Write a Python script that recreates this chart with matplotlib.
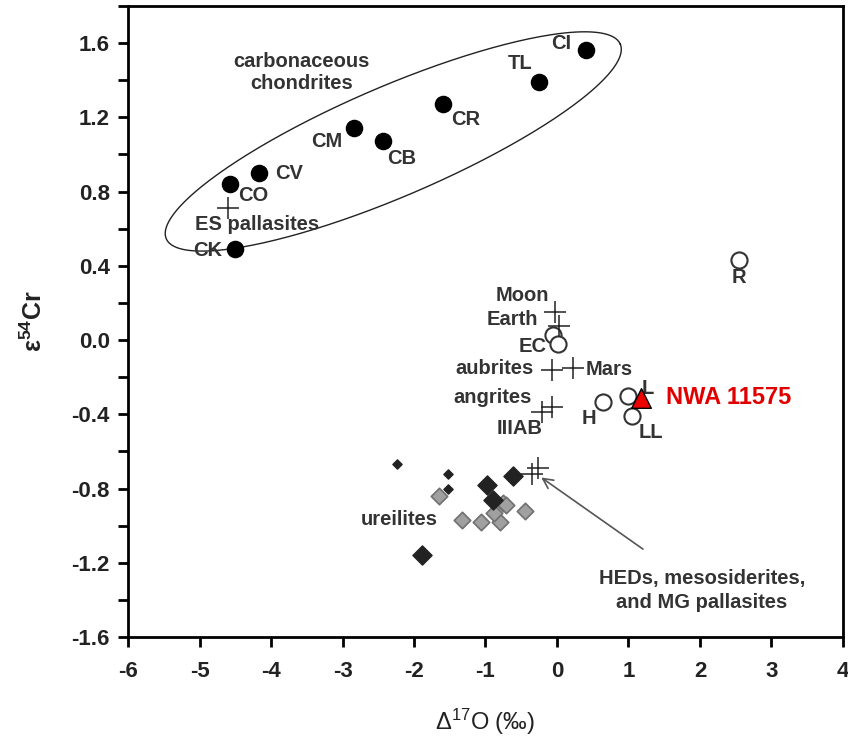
import numpy as np
import matplotlib.pyplot as plt

plt.rcParams['font.family'] = ['Liberation Sans', 'DejaVu Sans']
plt.rcParams['axes.unicode_minus'] = False
plt.rcParams['mathtext.fontset'] = 'custom'
plt.rcParams['mathtext.rm'] = 'Liberation Sans'
plt.rcParams['mathtext.it'] = 'Liberation Sans'
plt.rcParams['mathtext.bf'] = 'Liberation Sans:bold'

# carbonaceous chondrites (filled circles)
cc_names = ['CI', 'TL', 'CR', 'CM', 'CB', 'CV', 'CO', 'CK']
cc_x = [0.41, -0.25, -1.60, -2.84, -2.44, -4.17, -4.58, -4.51]
cc_y = [1.565, 1.39, 1.27, 1.14, 1.07, 0.90, 0.84, 0.49]

# ordinary / enstatite / R chondrites (open circles)
oc_names = ['R', 'Earth', 'EC', 'H', 'L', 'LL']
oc_x = [2.54, -0.06, 0.01, 0.64, 1.00, 1.05]
oc_y = [0.43, 0.03, -0.02, -0.335, -0.30, -0.41]

# achondrites / planets (crosses)
cr_names = ['ES pallasites', 'Moon', 'Earth', 'aubrites', 'Mars', 'angrites', 'IIIAB', 'HED', 'MG']
cr_x = [-4.60, -0.03, 0.03, -0.07, 0.22, -0.07, -0.21, -0.27, -0.35]
cr_y = [0.71, 0.15, 0.075, -0.16, -0.15, -0.36, -0.39, -0.69, -0.72]

# ureilites
ure_big_x = [-0.62, -0.90, -1.89, -0.98]
ure_big_y = [-0.73, -0.86, -1.16, -0.78]
ure_small_x = [-2.24, -1.53, -1.53]
ure_small_y = [-0.67, -0.72, -0.80]
ure_gray_x = [-1.65, -1.33, -1.06, -0.80, -0.88, -0.75, -0.71, -0.45]
ure_gray_y = [-0.84, -0.97, -0.98, -0.98, -0.93, -0.88, -0.89, -0.92]

# NWA 11575
nwa_x = [1.18]
nwa_y = [-0.31]

fig = plt.figure(figsize=(8.48, 7.4), dpi=100)
ax = fig.add_axes([0.151, 0.139, 0.843, 0.853])
ax.set_xlim(-6, 4)
ax.set_ylim(-1.6, 1.8)

ax.scatter(cc_x, cc_y, s=135, c='black', zorder=3)
ax.scatter(oc_x, oc_y, s=135, facecolors='white', edgecolors='#333333', linewidths=1.5, zorder=3)
ax.scatter(cr_x, cr_y, s=260, marker='+', c='#222222', linewidths=1.1, zorder=4)
ax.scatter(ure_gray_x, ure_gray_y, s=70, marker='D', c='#a0a0a0', edgecolors='#707070', linewidths=1.2, zorder=3)
ax.scatter(ure_big_x, ure_big_y, s=95, marker='D', c='#222222', zorder=3)
ax.scatter(ure_small_x, ure_small_y, s=22, marker='D', c='#222222', zorder=3)
ax.scatter(nwa_x, nwa_y, s=200, marker='^', c='#ee0000', edgecolors='black', linewidths=1, zorder=5)

# ellipse around carbonaceous chondrites, drawn in pixel space
fig.canvas.draw()
bb = ax.get_window_extent()
sx = bb.width / 10.0
sy = bb.height / 3.4
t = np.linspace(0, 2 * np.pi, 300)
a, b, th = 247, 55, np.radians(23.2)
cx, cy = -2.29, 1.07
ex = cx + (a * np.cos(t) * np.cos(th) - b * np.sin(t) * np.sin(th)) / sx
ey = cy + (a * np.cos(t) * np.sin(th) + b * np.sin(t) * np.cos(th)) / sy
ax.plot(ex, ey, color='#222222', lw=1.0, zorder=2)

tc = '#333333'
fs = 14.5
lab = dict(color=tc, fontsize=fs, fontweight='bold', ha='center', va='center')
ax.text(-3.57, 1.44, 'carbonaceous\nchondrites', linespacing=1.2, **lab)
ax.text(0.06, 1.595, 'CI', **lab)
ax.text(-0.51, 1.49, 'TL', **lab)
ax.text(-1.28, 1.19, 'CR', **lab)
ax.text(-3.22, 1.07, 'CM', **lab)
ax.text(-2.17, 0.98, 'CB', **lab)
ax.text(-3.75, 0.90, 'CV', **lab)
ax.text(-4.25, 0.78, 'CO', **lab)
ax.text(-4.20, 0.62, 'ES pallasites', **lab)
ax.text(-4.88, 0.48, 'CK', **lab)
ax.text(2.54, 0.335, 'R', **lab)
ax.text(-0.49, 0.24, 'Moon', **lab)
ax.text(-0.63, 0.11, 'Earth', **lab)
ax.text(-0.34, -0.035, 'EC', **lab)
ax.text(-0.88, -0.155, 'aubrites', **lab)
ax.text(0.73, -0.16, 'Mars', **lab)
ax.text(-0.90, -0.31, 'angrites', **lab)
ax.text(-0.52, -0.475, 'IIIAB', **lab)
ax.text(0.45, -0.42, 'H', **lab)
ax.text(1.27, -0.26, 'L', **lab)
ax.text(1.31, -0.50, 'LL', **lab)
ax.text(-2.2, -0.965, 'ureilites', **lab)
ax.text(1.52, -0.31, 'NWA 11575', color='#e00000', fontsize=17, fontweight='bold', ha='left', va='center')

ax.annotate('HEDs, mesosiderites,\nand MG pallasites', xy=(-0.22, -0.74), xytext=(2.03, -1.35),
            color=tc, fontsize=fs, fontweight='bold', ha='center', va='center', linespacing=1.3,
            arrowprops=dict(arrowstyle='->', color='#555555', lw=1.2, shrinkA=22, shrinkB=0,
                            mutation_scale=18))

ax.set_xticks(range(-6, 5))
ax.set_xticklabels([str(v) for v in range(-6, 5)])
ax.set_yticks([-1.6, -1.2, -0.8, -0.4, 0.0, 0.4, 0.8, 1.2, 1.6])
ax.set_yticks(np.arange(-1.4, 1.81, 0.4), minor=True)
ax.tick_params(axis='both', which='major', direction='out', length=7, width=2, labelsize=16, pad=6)
ax.tick_params(axis='x', which='major', pad=10)
ax.tick_params(axis='y', which='minor', direction='out', length=7, width=2)
for lbl in ax.get_xticklabels() + ax.get_yticklabels():
    lbl.set_fontweight('bold')
    lbl.set_color('#222222')
for sp in ax.spines.values():
    sp.set_linewidth(2)

ax.set_xlabel('Δ$^{17}$O (‰)', fontsize=17, color='#222222', labelpad=18)
ax.set_ylabel('ε$^{\\mathbf{54}}$Cr', fontsize=18, fontweight='bold', color='#222222', labelpad=18)

fig.savefig('out.png', dpi=100)
